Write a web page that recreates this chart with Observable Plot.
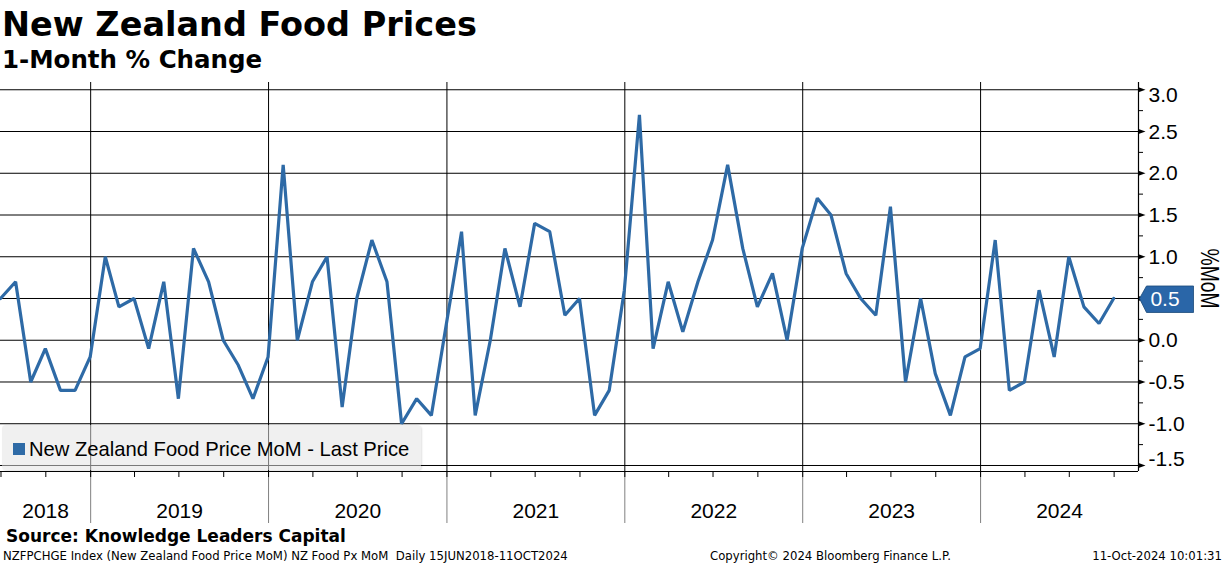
<!DOCTYPE html>
<html><head><meta charset="utf-8">
<script src="https://cdn.jsdelivr.net/npm/d3@7"></script>
<script src="https://cdn.jsdelivr.net/npm/@observablehq/plot@0.6"></script>
<style>
html,body{margin:0;padding:0;background:#fff;}
#page{position:relative;width:1224px;height:566px;overflow:hidden;background:#fff;}
.abs{position:absolute;white-space:nowrap;line-height:1;color:#000;}
#title{left:2px;top:7.7px;font-family:"DejaVu Sans";font-weight:bold;font-size:33.5px;}
#subtitle{left:2px;top:47.6px;font-family:"DejaVu Sans";font-weight:bold;font-size:24.5px;}
#chart{position:absolute;left:0;top:76px;}
#legend{position:absolute;left:2px;top:425px;width:419px;height:45px;background:rgba(227,227,227,0.53);border-radius:4px;box-shadow:1px 1px 2px rgba(0,0,0,0.12);}
#legsq{position:absolute;left:11px;top:18px;width:12px;height:12px;background:#2e6aa6;}
#legtx{position:absolute;left:27px;top:13.8px;font-family:"Liberation Sans";font-size:20.2px;line-height:1;white-space:nowrap;color:#000;}
#source{left:6px;top:528.3px;font-family:"DejaVu Sans";font-weight:bold;font-size:17px;}
.foot{top:550.5px;font-family:"DejaVu Sans";font-size:11.7px;}
</style></head>
<body><div id="page">
<div id="title" class="abs">New Zealand Food Prices</div>
<div id="subtitle" class="abs">1-Month % Change</div>
<div id="chart"></div>
<div id="legend"><div id="legsq"></div><div id="legtx">New Zealand Food Price MoM - Last Price</div></div>
<div id="source" class="abs">Source: Knowledge Leaders Capital</div>
<div class="abs foot" style="left:3px">NZFPCHGE Index (New Zealand Food Price MoM) NZ Food Px MoM&nbsp; Daily 15JUN2018-11OCT2024</div>
<div class="abs foot" style="left:710px">Copyright© 2024 Bloomberg Finance L.P.</div>
<div class="abs foot" style="right:2px">11-Oct-2024 10:01:31</div>
</div>
<script>
// Monthly % change values (month-end dates)
const v2018 = [0.5, 0.7, -0.5, -0.1, -0.6, -0.6, -0.2];            // Jun–Dec
const v2019 = [1.0, 0.4, 0.5, -0.1, 0.7, -0.7, 1.1, 0.7, 0.0, -0.3, -0.7, -0.2];
const v2020 = [2.1, 0.0, 0.7, 1.0, -0.8, 0.5, 1.2, 0.7, -1.0, -0.7, -0.9, 0.2];
const v2021 = [1.3, -0.9, 0.0, 1.1, 0.4, 1.4, 1.3, 0.3, 0.5, -0.9, -0.6, 0.6];
const v2022 = [2.7, -0.1, 0.7, 0.1, 0.7, 1.2, 2.1, 1.1, 0.4, 0.8, 0.0, 1.1];
const v2023 = [1.7, 1.5, 0.8, 0.5, 0.3, 1.6, -0.5, 0.5, -0.4, -0.9, -0.2, -0.1];
const v2024 = [1.2, -0.6, -0.5, 0.6, -0.2, 1.0, 0.4, 0.2, 0.5];      // Jan–Sep
const yearBlocks = [[2018, 5, v2018], [2019, 0, v2019], [2020, 0, v2020], [2021, 0, v2021],
                    [2022, 0, v2022], [2023, 0, v2023], [2024, 0, v2024]];
const yearNames = ["2018", "2019", "2020", "2021", "2022", "2023", "2024"];
const yTickValues = [-1.5, -1.0, -0.5, 0.0, 0.5, 1.0, 1.5, 2.0, 2.5, 3.0];
const yMinorValues = [-1.25, -0.75, -0.25, 0.25, 0.75, 1.25, 1.75, 2.25, 2.75];
const yLabel = "%MoM";
const xDomain = [new Date(Date.UTC(2018, 5, 30)), new Date(Date.UTC(2024, 10, 20))];
const yDomain = [-1.572, 3.087];

const data = [];
for (const [yr, m0, vals] of yearBlocks) {
  vals.forEach((v, i) => data.push({date: new Date(Date.UTC(yr, m0 + i + 1, 0)), value: v}));
}
const last = data[data.length - 1];

const yearStarts = yearNames.slice(1).map(y => new Date(Date.UTC(+y, 0, 1)));
const yearLabels = yearNames.map(y => {
  const s = Math.max(Date.UTC(+y, 0, 1), +xDomain[0]);
  const e = Math.min(Date.UTC(+y + 1, 0, 1), +xDomain[1]);
  return {label: y, mid: new Date((s + e) / 2)};
});
const quarterStarts = d3.utcMonth.every(3).range(xDomain[0], xDomain[1]);

const triShape = {draw(ctx) { ctx.moveTo(0, -2.5); ctx.lineTo(7, 0); ctx.lineTo(0, 2.5); ctx.closePath(); }};
const markerShape = {draw(ctx) { ctx.moveTo(1, 0); ctx.lineTo(8, -12.5); ctx.lineTo(55, -12.5); ctx.lineTo(55, 14); ctx.lineTo(8, 14); ctx.closePath(); }};
const fmt = d => d.toFixed(1);
const topTick = yTickValues[yTickValues.length - 1], botTick = yTickValues[0];
// the label hidden behind the last-value marker is not drawn
const midTicks = yTickValues.filter(d => d !== topTick && d !== botTick && d !== last.value);

const chart = Plot.plot({
  width: 1224, height: 452,
  marginTop: 6, marginBottom: 57, marginLeft: 0, marginRight: 86,
  x: {type: "utc", domain: xDomain},
  y: {domain: yDomain},
  style: {fontFamily: "Liberation Sans", fontSize: "21px", background: "transparent", overflow: "visible", color: "#000"},
  marks: [
    Plot.ruleY(yTickValues, {stroke: "#000", strokeWidth: 1}),
    Plot.ruleX(yearStarts, {y1: yDomain[0], y2: yDomain[1], stroke: "#000", strokeWidth: 1}),
    Plot.axisX({ticks: yearStarts, tickSize: 52, tickFormat: () => "", stroke: "#808080", label: null}),
    Plot.axisX({ticks: quarterStarts, tickSize: 6, tickFormat: () => "", stroke: "#000", label: null}),
    Plot.ruleY([yDomain[0]], {stroke: "#000", strokeWidth: 1.2}),
    Plot.ruleX([xDomain[1]], {stroke: "#000", strokeWidth: 1.2}),
    Plot.axisY({anchor: "right", ticks: yMinorValues, tickSize: 4, tickFormat: () => "", stroke: "#000", label: null}),
    Plot.dot(yTickValues, {y: d => d, frameAnchor: "right", symbol: triShape, fill: "#000", stroke: null}),
    Plot.text(midTicks, {y: d => d, text: fmt, frameAnchor: "right", dx: 10, dy: 0.5, textAnchor: "start", fontSize: 21}),
    Plot.text([topTick], {y: d => d, text: fmt, frameAnchor: "right", dx: 10, dy: 6, textAnchor: "start", fontSize: 21}),
    Plot.text([botTick], {y: d => d, text: fmt, frameAnchor: "right", dx: 10, dy: -6, textAnchor: "start", fontSize: 21}),
    Plot.text(yearLabels, {x: "mid", text: "label", frameAnchor: "bottom", dy: 46, textAnchor: "middle", fontSize: 21}),
    Plot.text([yLabel], {text: d => d, frameAnchor: "right", dx: 70, dy: 1.5, rotate: 90, textAnchor: "middle", fontSize: 25}),
    Plot.line(data, {x: "date", y: "value", stroke: "#2e6aa6", strokeWidth: 3.2, strokeLinejoin: "miter"}),
    Plot.dot([last], {y: "value", frameAnchor: "right", symbol: markerShape, fill: "#2a66a8", stroke: "#1b4a7a", strokeWidth: 0.8}),
    Plot.text([last], {y: "value", text: d => fmt(d.value), frameAnchor: "right", dx: 26.5, dy: 0.5, textAnchor: "middle", fill: "#fff", fontSize: 21})
  ]
});
// condense the rotated axis label like the reference (tall, narrow glyphs)
chart.querySelectorAll("text").forEach(t => {
  if (t.textContent === yLabel) { t.setAttribute("textLength", "60"); t.setAttribute("lengthAdjust", "spacingAndGlyphs"); }
});
document.getElementById("chart").appendChild(chart);
</script>
</body></html>
